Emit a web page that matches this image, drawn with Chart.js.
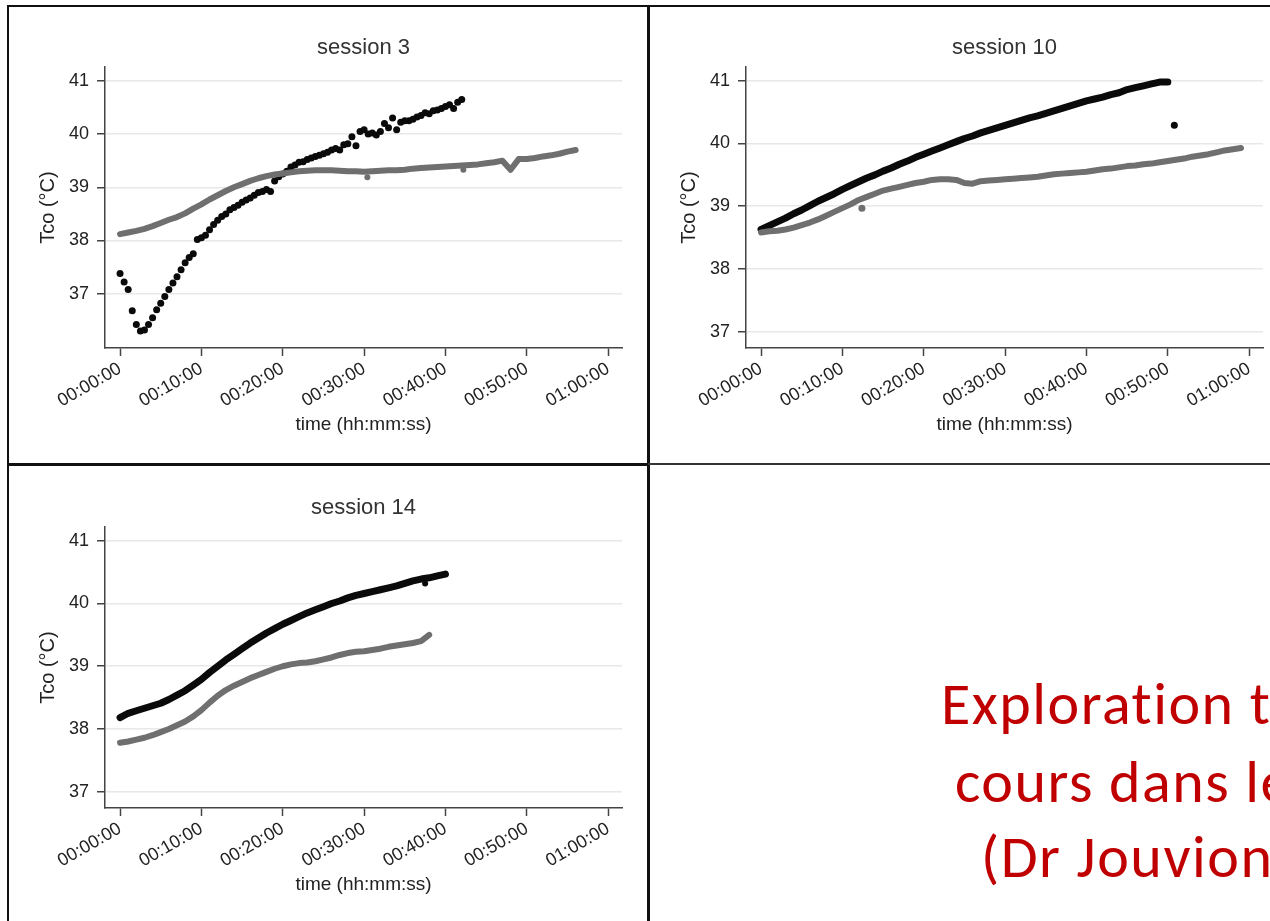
<!DOCTYPE html>
<html>
<head>
<meta charset="utf-8">
<script src="https://cdn.jsdelivr.net/npm/chart.js@4.4.1/dist/chart.umd.min.js"></script>
<style>
  html, body { margin: 0; padding: 0; background: #fff; }
  body { width: 1270px; height: 921px; overflow: hidden; position: relative; }
  canvas { position: absolute; }
  .rule { position: absolute; background: #111; }
  .note {
    position: absolute; white-space: nowrap; color: #c00000; letter-spacing: 1.5px;
    font-family: Carlito, Lato, "Open Sans", sans-serif; font-size: 60px; line-height: 1;
  }
</style>
</head>
<body>
<!-- panel frames -->
<div class="rule" style="left:7px;top:5px;width:1263px;height:2px"></div>
<div class="rule" style="left:7px;top:5px;width:2px;height:916px"></div>
<div class="rule" style="left:647px;top:5px;width:3px;height:916px"></div>
<div class="rule" style="left:7px;top:463px;width:642px;height:3px"></div>
<div class="rule" style="left:648px;top:463px;width:622px;height:2px;background:#333"></div>

<canvas id="s3" width="636" height="454" style="left:10px;top:8px"></canvas>
<canvas id="s10" width="636" height="454" style="left:651px;top:8px"></canvas>
<canvas id="s14" width="636" height="454" style="left:10px;top:468px"></canvas>

<div class="note" style="left:941px;top:674px">Exploration t</div>
<div class="note" style="left:955px;top:752px">cours dans le</div>
<div class="note" style="left:981px;top:827px">(Dr Jouvion</div>

<script>
// x axis in minutes since start, labelled hh:mm:ss
const xTicks = [0, 10, 20, 30, 40, 50, 60];
const xTickLabels = ['00:00:00', '00:10:00', '00:20:00', '00:30:00', '00:40:00', '00:50:00', '01:00:00'];
const yTicks = [37, 38, 39, 40, 41];

// session 3 : black sampled every 30 s, grey every minute
const s3Black = [37.38, 37.22, 37.08, 36.68, 36.42, 36.30, 36.32, 36.42, 36.55, 36.70,
  36.82, 36.95, 37.08, 37.20, 37.32, 37.45, 37.58, 37.68, 37.75, 38.02,
  38.05, 38.10, 38.20, 38.30, 38.38, 38.45, 38.50, 38.58, 38.62, 38.66,
  38.72, 38.76, 38.80, 38.85, 38.90, 38.92, 38.96, 38.92, 39.12, 39.20,
  39.25, 39.30, 39.38, 39.42, 39.47, 39.48, 39.52, 39.55, 39.58, 39.60,
  39.63, 39.66, 39.70, 39.73, 39.70, 39.80, 39.82, 39.95, 39.78, 40.05,
  40.08, 40.00, 40.02, 39.98, 40.05, 40.20, 40.12, 40.30, 40.08, 40.22,
  40.25, 40.25, 40.28, 40.32, 40.35, 40.40, 40.38, 40.44, 40.45, 40.48,
  40.52, 40.55, 40.48, 40.60, 40.65];
const s3Grey = [38.12, 38.15, 38.18, 38.22, 38.27, 38.33, 38.39, 38.44, 38.51, 38.60,
  38.68, 38.77, 38.85, 38.93, 39.00, 39.06, 39.12, 39.17, 39.21, 39.24,
  39.26, 39.28, 39.30, 39.31, 39.32, 39.32, 39.32, 39.31, 39.30, 39.30,
  39.29, 39.30, 39.31, 39.32, 39.32, 39.33, 39.35, 39.36, 39.37, 39.38,
  39.39, 39.40, 39.41, 39.42, 39.43, 39.45, 39.47, 39.50, 39.33, 39.53,
  39.53, 39.55, 39.58, 39.60, 39.63, 39.67, 39.70];
const s3GreyOut = [{x: 30.4, y: 39.19}, {x: 42.2, y: 39.33}];

// session 10 : both every minute
const s10Black = [38.63, 38.69, 38.75, 38.81, 38.88, 38.94, 39.01, 39.08, 39.14, 39.20,
  39.27, 39.33, 39.39, 39.45, 39.50, 39.56, 39.61, 39.67, 39.72, 39.78,
  39.83, 39.88, 39.93, 39.98, 40.03, 40.08, 40.12, 40.17, 40.21, 40.25,
  40.29, 40.33, 40.37, 40.41, 40.44, 40.48, 40.52, 40.56, 40.60, 40.64,
  40.68, 40.71, 40.74, 40.78, 40.81, 40.86, 40.89, 40.92, 40.95, 40.98,
  40.98];
const s10BlackOut = [{x: 50.8, y: 40.29}];
const s10Grey = [38.58, 38.60, 38.61, 38.63, 38.66, 38.70, 38.74, 38.79, 38.85, 38.91,
  38.97, 39.03, 39.10, 39.15, 39.20, 39.25, 39.28, 39.31, 39.34, 39.37,
  39.39, 39.42, 39.43, 39.43, 39.42, 39.37, 39.36, 39.40, 39.41, 39.42,
  39.43, 39.44, 39.45, 39.46, 39.47, 39.49, 39.51, 39.52, 39.53, 39.54,
  39.55, 39.57, 39.59, 39.60, 39.62, 39.64, 39.65, 39.67, 39.68, 39.70,
  39.72, 39.74, 39.76, 39.79, 39.81, 39.83, 39.86, 39.89, 39.91, 39.93];
const s10GreyOut = [{x: 12.4, y: 38.97}];

// session 14 : both every minute
const s14Black = [38.18, 38.25, 38.29, 38.33, 38.37, 38.41, 38.47, 38.54, 38.61, 38.70,
  38.79, 38.90, 39.00, 39.10, 39.19, 39.28, 39.37, 39.45, 39.53, 39.60,
  39.67, 39.73, 39.79, 39.85, 39.90, 39.95, 40.00, 40.04, 40.09, 40.13,
  40.16, 40.19, 40.22, 40.25, 40.28, 40.32, 40.36, 40.39, 40.41, 40.44,
  40.47];
const s14BlackOut = [{x: 37.5, y: 40.32}];
const s14Grey = [37.78, 37.80, 37.83, 37.86, 37.90, 37.95, 38.00, 38.06, 38.12, 38.20,
  38.30, 38.42, 38.53, 38.62, 38.69, 38.75, 38.81, 38.86, 38.91, 38.96,
  39.00, 39.03, 39.05, 39.06, 39.08, 39.11, 39.14, 39.18, 39.21, 39.23,
  39.24, 39.26, 39.28, 39.31, 39.33, 39.35, 39.37, 39.40, 39.50];

const BLACK = '#0a0a0a';
const GREY = '#6f6f6f';
const FONT = "'Liberation Sans', Arial, sans-serif";

// values sampled at a fixed step (minutes) -> {x, y}
function toPoints(values, step) {
  return values.map((v, i) => ({x: i * step, y: v}));
}

function band(values, color, w) {
  return {data: toPoints(values, 1), showLine: true, borderColor: color, backgroundColor: color,
    borderWidth: w, borderCapStyle: 'round', borderJoinStyle: 'round', pointRadius: 0, tension: 0};
}
function dots(points, color, r) {
  return {data: points, showLine: false, backgroundColor: color, borderColor: color,
    borderWidth: 0, pointRadius: r};
}

// session title, centred over the plot area rather than the canvas
const panelTitle = {
  id: 'panelTitle',
  afterDraw(chart, args, opts) {
    const {ctx, chartArea} = chart;
    ctx.save();
    ctx.font = opts.size + 'px ' + FONT;
    ctx.fillStyle = '#333';
    ctx.textAlign = 'center';
    ctx.textBaseline = 'middle';
    ctx.fillText(opts.text, (chartArea.left + chartArea.right) / 2, 40);
    ctx.restore();
  }
};

function drawPanel(id, title, yMin, yMax, datasets) {
  new Chart(document.getElementById(id), {
    type: 'scatter',
    data: {datasets: datasets},
    plugins: [panelTitle],
    options: {
      responsive: false,
      animation: false,
      events: [],
      layout: {padding: {top: 59, left: 0, right: 24, bottom: 0}},
      plugins: {
        legend: {display: false},
        tooltip: {enabled: false},
        panelTitle: {text: title, size: 22}
      },
      scales: {
        x: {
          type: 'linear', min: -1.85, max: 61.7,
          afterBuildTicks: s => { s.ticks = xTicks.map(v => ({value: v})); },
          afterFit: s => { s.height = 114; },
          ticks: {autoSkip: false, minRotation: 30, maxRotation: 30, padding: 2, color: '#222',
            font: {family: FONT, size: 18}, callback: (v, i) => xTickLabels[i]},
          grid: {drawOnChartArea: false, tickLength: 8, tickColor: '#444', tickWidth: 1.5},
          border: {color: '#444', width: 1.5},
          title: {display: true, text: 'time (hh:mm:ss)', color: '#222',
            font: {family: FONT, size: 19}, padding: {top: 0, bottom: 26}}
        },
        y: {
          min: yMin, max: yMax,
          afterBuildTicks: s => { s.ticks = yTicks.map(v => ({value: v})); },
          afterFit: s => { s.width = 95; },
          ticks: {padding: 8, color: '#222', font: {family: FONT, size: 18}},
          grid: {color: '#e8e8e8', lineWidth: 1.5, tickLength: 8, tickColor: '#444', tickWidth: 1.5},
          border: {color: '#444', width: 1.5},
          title: {display: true, text: 'Tco (°C)', color: '#222',
            font: {family: FONT, size: 20}, padding: {top: 26, bottom: 0}}
        }
      }
    }
  });
}

drawPanel('s3', 'session 3', 35.98, 41.26, [
  band(s3Grey, GREY, 6),
  dots(s3GreyOut, GREY, 3),
  dots(toPoints(s3Black, 0.5), BLACK, 3.5)
]);

drawPanel('s10', 'session 10', 36.74, 41.22, [
  band(s10Grey, GREY, 6),
  dots(s10GreyOut, GREY, 3.5),
  band(s10Black, BLACK, 7),
  dots(s10BlackOut, BLACK, 3.5)
]);

drawPanel('s14', 'session 14', 36.74, 41.22, [
  band(s14Grey, GREY, 6),
  band(s14Black, BLACK, 7),
  dots(s14BlackOut, BLACK, 3)
]);
</script>
</body>
</html>
